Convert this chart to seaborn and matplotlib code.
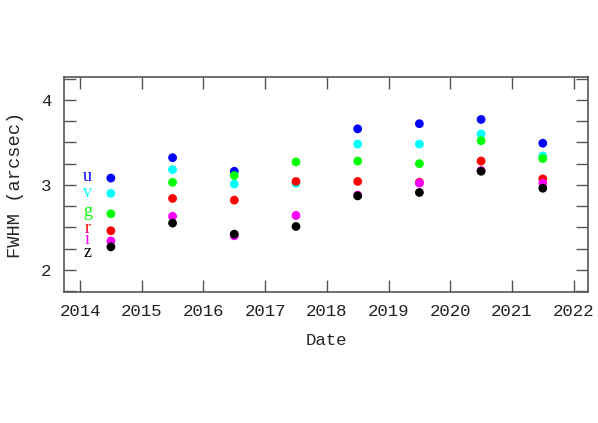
import numpy as np
import pandas as pd
import matplotlib
matplotlib.use("Agg")
import matplotlib.pyplot as plt
import seaborn as sns
from matplotlib.ticker import MultipleLocator

# FWHM per band at mid-year epochs
dates = [2014.5, 2015.5, 2016.5, 2017.5, 2018.5, 2019.5, 2020.5, 2021.5]
fwhm_u = [3.08, 3.32, 3.16, np.nan, 3.66, 3.72, 3.77, 3.49]
fwhm_v = [2.90, 3.18, 3.01, 3.02, 3.48, 3.48, 3.60, 3.34]
fwhm_g = [2.66, 3.03, 3.11, 3.27, 3.28, 3.25, 3.52, 3.31]
fwhm_r = [2.46, 2.84, 2.82, 3.04, 3.04, 3.03, 3.28, 3.07]
fwhm_i = [2.34, 2.63, 2.40, 2.64, 2.88, 3.02, 3.17, 3.02]
fwhm_z = [2.27, 2.55, 2.42, 2.51, 2.87, 2.91, 3.16, 2.96]

bands = ["u", "v", "g", "r", "i", "z"]
band_colors = ["#0000ff", "#00ffff", "#00ff00", "#ff0000", "#ff00ff", "#000000"]
label_y = [0.537, 0.462, 0.374, 0.297, 0.243, 0.182]

series = [fwhm_u, fwhm_v, fwhm_g, fwhm_r, fwhm_i, fwhm_z]
df = pd.concat(
    [pd.DataFrame({"Date": dates, "FWHM": vals, "band": b}) for b, vals in zip(bands, series)],
    ignore_index=True,
).dropna()

sns.set_style("ticks")
plt.rcParams["font.family"] = ["Liberation Mono", "DejaVu Sans Mono"]
plt.rcParams["text.color"] = "#222222"

fig = plt.figure(figsize=(5.98, 4.23), dpi=100)
ax = fig.add_axes([0.107, 0.310, 0.876, 0.508])

sns.scatterplot(data=df, x="Date", y="FWHM", hue="band", hue_order=bands,
                palette=band_colors, s=40, edgecolor="none", legend=False, ax=ax)

# band labels on the left
for b, c, yy in zip(bands, band_colors, label_y):
    ax.text(0.045, yy, b, color=c, transform=ax.transAxes,
            fontsize=13, family="Liberation Serif", ha="center", va="center")

ax.set_xlim(2013.74, 2022.23)
ax.set_ylim(1.74, 4.27)
ax.xaxis.set_major_locator(MultipleLocator(1))
ax.yaxis.set_major_locator(MultipleLocator(1))
ax.yaxis.set_minor_locator(MultipleLocator(0.25))
ax.tick_params(which="both", direction="in", top=True, right=True,
               length=8.5, width=1.0, color="#555555", labelsize=12.5,
               labelcolor="#222222")
ax.tick_params(axis="x", pad=9)
ax.tick_params(axis="y", pad=9)
for sp in ax.spines.values():
    sp.set_color("#555555")
    sp.set_linewidth(1.2)

ax.set_xlabel("Date", fontsize=12.5, labelpad=10)
ax.set_ylabel("FWHM (arcsec)", fontsize=13.5, labelpad=12)

fig.savefig("out.png", dpi=100)
